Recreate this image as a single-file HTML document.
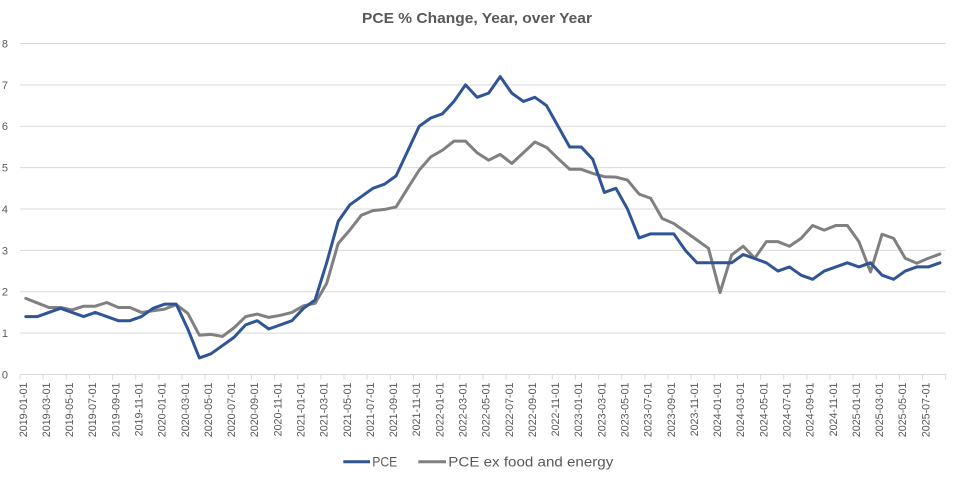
<!DOCTYPE html>
<html>
<head>
<meta charset="utf-8">
<style>
  html, body { margin: 0; padding: 0; background: #ffffff; }
  body { width: 957px; height: 477px; overflow: hidden; }
  svg { display: block; }
  text { font-family: "Liberation Sans", Arial, sans-serif; fill: #595959; }
</style>
</head>
<body>
<svg width="957" height="477" viewBox="0 0 957 477" xmlns="http://www.w3.org/2000/svg">
  <rect x="0" y="0" width="957" height="477" fill="#ffffff"/>

  <!-- Title -->
  <text x="477" y="23" font-size="15" font-weight="bold" text-anchor="middle" textLength="230" lengthAdjust="spacingAndGlyphs">PCE % Change, Year, over Year</text>

  <!-- Gridlines -->
  <g stroke="#d9d9d9" stroke-width="1">
    <line x1="20" y1="43.5" x2="945.7" y2="43.5"/>
    <line x1="20" y1="84.9" x2="945.7" y2="84.9"/>
    <line x1="20" y1="126.25" x2="945.7" y2="126.25"/>
    <line x1="20" y1="167.6" x2="945.7" y2="167.6"/>
    <line x1="20" y1="209" x2="945.7" y2="209"/>
    <line x1="20" y1="250.4" x2="945.7" y2="250.4"/>
    <line x1="20" y1="291.75" x2="945.7" y2="291.75"/>
    <line x1="20" y1="333.1" x2="945.7" y2="333.1"/>
    <line x1="20" y1="374.5" x2="945.7" y2="374.5"/>
  </g>
  <!-- tick marks -->
  <line x1="19.5" y1="377" x2="946.5" y2="377" stroke="#d9d9d9" stroke-width="5" stroke-dasharray="1 22.143"/>

  <!-- Y labels -->
  <g font-size="11" text-anchor="end">
    <text x="8" y="47.4">8</text>
    <text x="8" y="88.8">7</text>
    <text x="8" y="130.1">6</text>
    <text x="8" y="171.5">5</text>
    <text x="8" y="212.9">4</text>
    <text x="8" y="254.3">3</text>
    <text x="8" y="295.6">2</text>
    <text x="8" y="337">1</text>
    <text x="8" y="378.4">0</text>
  </g>

  <!-- X labels -->
  <g font-size="10.7" text-anchor="end">
    <text transform="translate(26.8,382.5) rotate(-90)">2019-01-01</text>
    <text transform="translate(49.9,382.5) rotate(-90)">2019-03-01</text>
    <text transform="translate(73.1,382.5) rotate(-90)">2019-05-01</text>
    <text transform="translate(96.2,382.5) rotate(-90)">2019-07-01</text>
    <text transform="translate(119.4,382.5) rotate(-90)">2019-09-01</text>
    <text transform="translate(142.5,382.5) rotate(-90)">2019-11-01</text>
    <text transform="translate(165.7,382.5) rotate(-90)">2020-01-01</text>
    <text transform="translate(188.8,382.5) rotate(-90)">2020-03-01</text>
    <text transform="translate(211.9,382.5) rotate(-90)">2020-05-01</text>
    <text transform="translate(235.1,382.5) rotate(-90)">2020-07-01</text>
    <text transform="translate(258.2,382.5) rotate(-90)">2020-09-01</text>
    <text transform="translate(281.4,382.5) rotate(-90)">2020-11-01</text>
    <text transform="translate(304.5,382.5) rotate(-90)">2021-01-01</text>
    <text transform="translate(327.7,382.5) rotate(-90)">2021-03-01</text>
    <text transform="translate(350.8,382.5) rotate(-90)">2021-05-01</text>
    <text transform="translate(373.9,382.5) rotate(-90)">2021-07-01</text>
    <text transform="translate(397.1,382.5) rotate(-90)">2021-09-01</text>
    <text transform="translate(420.2,382.5) rotate(-90)">2021-11-01</text>
    <text transform="translate(443.4,382.5) rotate(-90)">2022-01-01</text>
    <text transform="translate(466.5,382.5) rotate(-90)">2022-03-01</text>
    <text transform="translate(489.7,382.5) rotate(-90)">2022-05-01</text>
    <text transform="translate(512.8,382.5) rotate(-90)">2022-07-01</text>
    <text transform="translate(535.9,382.5) rotate(-90)">2022-09-01</text>
    <text transform="translate(559.1,382.5) rotate(-90)">2022-11-01</text>
    <text transform="translate(582.2,382.5) rotate(-90)">2023-01-01</text>
    <text transform="translate(605.4,382.5) rotate(-90)">2023-03-01</text>
    <text transform="translate(628.5,382.5) rotate(-90)">2023-05-01</text>
    <text transform="translate(651.7,382.5) rotate(-90)">2023-07-01</text>
    <text transform="translate(674.8,382.5) rotate(-90)">2023-09-01</text>
    <text transform="translate(697.9,382.5) rotate(-90)">2023-11-01</text>
    <text transform="translate(721.1,382.5) rotate(-90)">2024-01-01</text>
    <text transform="translate(744.2,382.5) rotate(-90)">2024-03-01</text>
    <text transform="translate(767.4,382.5) rotate(-90)">2024-05-01</text>
    <text transform="translate(790.5,382.5) rotate(-90)">2024-07-01</text>
    <text transform="translate(813.7,382.5) rotate(-90)">2024-09-01</text>
    <text transform="translate(836.8,382.5) rotate(-90)">2024-11-01</text>
    <text transform="translate(859.9,382.5) rotate(-90)">2025-01-01</text>
    <text transform="translate(883.1,382.5) rotate(-90)">2025-03-01</text>
    <text transform="translate(906.2,382.5) rotate(-90)">2025-05-01</text>
    <text transform="translate(929.4,382.5) rotate(-90)">2025-07-01</text>
  </g>

  <!-- Series (data coordinates: x = month index, y = percent) -->
  <g transform="translate(25.786,374.5) scale(11.5714,-41.375)">
    <!-- PCE ex food and energy (gray) -->
    <polyline fill="none" stroke="#808080" stroke-width="3" stroke-linejoin="round" stroke-linecap="round" vector-effect="non-scaling-stroke"
      points="0,1.84 1,1.73 2,1.62 3,1.62 4,1.56 5,1.65 6,1.65 7,1.74 8,1.62 9,1.62 10,1.50 11,1.54 12,1.58 13,1.69 14,1.48 15,0.95 16,0.97 17,0.92 18,1.13 19,1.40 20,1.46 21,1.38 22,1.43 23,1.50 24,1.66 25,1.72 26,2.2 27,3.17 28,3.49 29,3.85 30,3.96 31,3.99 32,4.05 33,4.5 34,4.94 35,5.26 36,5.42 37,5.64 38,5.64 39,5.36 40,5.18 41,5.32 42,5.10 43,5.36 44,5.62 45,5.49 46,5.22 47,4.96 48,4.96 49,4.86 50,4.78 51,4.77 52,4.70 53,4.36 54,4.26 55,3.77 56,3.65 57,3.45 58,3.25 59,3.05 60,1.98 61,2.89 62,3.10 63,2.81 64,3.21 65,3.21 66,3.10 67,3.29 68,3.60 69,3.49 70,3.60 71,3.60 72,3.21 73,2.48 74,3.39 75,3.29 76,2.81 77,2.69 78,2.81 79,2.91"/>
    <!-- PCE (blue) -->
    <polyline fill="none" stroke="#2f5597" stroke-width="3" stroke-linejoin="round" stroke-linecap="round" vector-effect="non-scaling-stroke"
      points="0,1.4 1,1.4 2,1.5 3,1.6 4,1.5 5,1.4 6,1.5 7,1.4 8,1.3 9,1.3 10,1.4 11,1.6 12,1.7 13,1.7 14,1.1 15,0.4 16,0.5 17,0.7 18,0.9 19,1.2 20,1.3 21,1.1 22,1.2 23,1.3 24,1.6 25,1.8 26,2.7 27,3.7 28,4.1 29,4.3 30,4.5 31,4.6 32,4.8 33,5.4 34,6.0 35,6.2 36,6.3 37,6.6 38,7.0 39,6.7 40,6.8 41,7.2 42,6.8 43,6.6 44,6.7 45,6.5 46,6.0 47,5.5 48,5.5 49,5.2 50,4.4 51,4.5 52,4.0 53,3.3 54,3.4 55,3.4 56,3.4 57,3.0 58,2.7 59,2.7 60,2.7 61,2.7 62,2.9 63,2.8 64,2.7 65,2.5 66,2.6 67,2.4 68,2.3 69,2.5 70,2.6 71,2.7 72,2.6 73,2.7 74,2.4 75,2.3 76,2.5 77,2.6 78,2.6 79,2.7"/>
  </g>

  <!-- Legend -->
  <line x1="343.3" y1="461.7" x2="370" y2="461.7" stroke="#2f5597" stroke-width="3"/>
  <text x="372.3" y="466.7" font-size="14" textLength="25" lengthAdjust="spacingAndGlyphs">PCE</text>
  <line x1="418.3" y1="461.7" x2="446" y2="461.7" stroke="#808080" stroke-width="3"/>
  <text x="448.3" y="466.7" font-size="14" textLength="165" lengthAdjust="spacingAndGlyphs">PCE ex food and energy</text>
</svg>
</body>
</html>
